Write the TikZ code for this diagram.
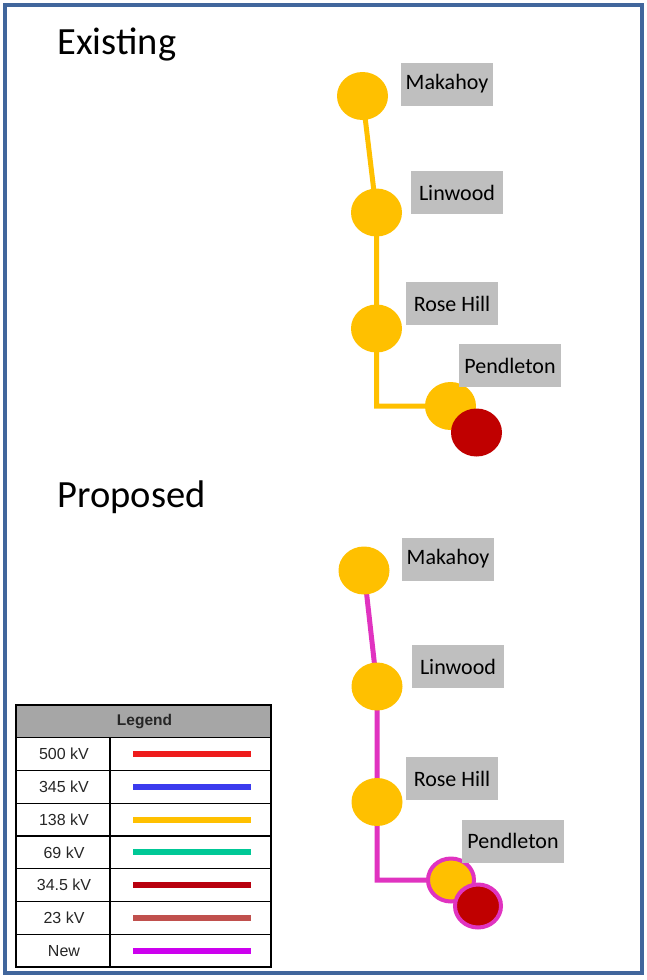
\documentclass[tikz,border=0pt]{standalone}
\usepackage{fontspec}
\setmainfont{Carlito}
\newfontfamily\legendfont{Liberation Sans}
\usetikzlibrary{shapes.geometric, backgrounds}

\definecolor{frameblue}{HTML}{41669C}
\definecolor{busyellow}{HTML}{FFC000}
\definecolor{busred}{HTML}{C00000}
\definecolor{boxgray}{HTML}{BFBFBF}
\definecolor{headgray}{HTML}{A6A6A6}
\definecolor{newpink}{HTML}{E033C0}
\definecolor{kvA}{HTML}{EE1C1C}
\definecolor{kvB}{HTML}{3B3BEE}
\definecolor{kvC}{HTML}{FFC000}
\definecolor{kvD}{HTML}{00C896}
\definecolor{kvE}{HTML}{B8000E}
\definecolor{kvF}{HTML}{C0504D}
\definecolor{kvG}{HTML}{CC00EE}

\begin{document}
\begin{tikzpicture}[x=1pt,y=-1pt,
    bus/.style={ellipse,fill=busyellow,minimum width=51pt,minimum height=48pt,inner sep=0pt},
    sub/.style={bus,fill=busred},
    ringed/.style={draw=newpink,line width=4pt,minimum width=46pt,minimum height=43pt},
    lbl/.style={fill=boxgray,minimum width=92pt,minimum height=43pt,inner xsep=5pt,
      font=\fontsize{22}{26}\selectfont},
    heading/.style={anchor=base west,font=\fontsize{38.5}{46}\selectfont},
    feed/.style={line width=5pt,draw=busyellow},
    newfeed/.style={line width=5pt,draw=newpink},
    legtext/.style={font=\legendfont\fontsize{16}{19}\selectfont,text=black!85}]
  \useasboundingbox (0,0) rectangle (646,980);
  \draw[line width=4pt,frameblue] (4.5,5) rectangle (641.5,973);

  % existing
  \node[heading] (exist) at (54,54) {Existing};
  \node[bus] (mak1) at (362.5,96) {};
  \node[bus] (lin1) at (376.5,212.5) {};
  \node[bus] (ros1) at (376.5,328.5) {};
  \node[bus] (pen1) at (450.5,406) {};
  \node[sub] (sub1) at (476.5,432.5) {};
  \node[lbl] (makl1) at (447,84) {Makahoy};
  \node[lbl] (linl1) at (457,192.5) {Linwood};
  \node[lbl] (rosl1) at (452,303.5) {Rose Hill};
  \node[lbl] (penl1) at (510,365.5) {Pendleton};
  \begin{scope}[on background layer]
    \draw[feed] (mak1.center) -- (lin1.center) -- (ros1.center) |- (pen1.center);
  \end{scope}

  % proposed
  \node[heading] (prop) at (54,507) {Proposed};
  \node[bus] (mak2) at (364,570.5) {};
  \node[bus] (lin2) at (377,686.5) {};
  \node[bus] (ros2) at (377,802) {};
  \node[bus,ringed] (pen2) at (451,880) {};
  \node[sub,ringed] (sub2) at (478,906) {};
  \node[lbl] (makl2) at (448,559) {Makahoy};
  \node[lbl] (linl2) at (458,666.5) {Linwood};
  \node[lbl] (rosl2) at (452,778.5) {Rose Hill};
  \node[lbl] (penl2) at (513,841) {Pendleton};
  \begin{scope}[on background layer]
    \draw[newfeed] (mak2.center) -- (lin2.center) -- (ros2.center) |- (pen2.center);
  \end{scope}

  % legend
  \fill[headgray] (16,705) rectangle (271,737.5);
  \node[legtext,font=\legendfont\bfseries\fontsize{15.5}{18}\selectfont] (legend) at (144.5,721.5) {Legend};
  \foreach \lab/\col [count=\i] in {500 kV/kvA,345 kV/kvB,138 kV/kvC,69 kV/kvD,34.5 kV/kvE,23 kV/kvF,New/kvG}{
    \node[legtext] (lv\i) at (64,737.5+\i*32.8-16.4) {\lab};
    \draw[line width=6pt,\col] (133,737.5+\i*32.8-16.4) -- (251,737.5+\i*32.8-16.4);
    \draw[line width=1.2pt] (16,737.5+\i*32.8-32.8) -- (271,737.5+\i*32.8-32.8);
  }
  \draw[line width=1.2pt] (110,737.5) -- (110,967);
  \draw[line width=1.2pt] (16,705) rectangle (271,967);
\end{tikzpicture}
\end{document}
